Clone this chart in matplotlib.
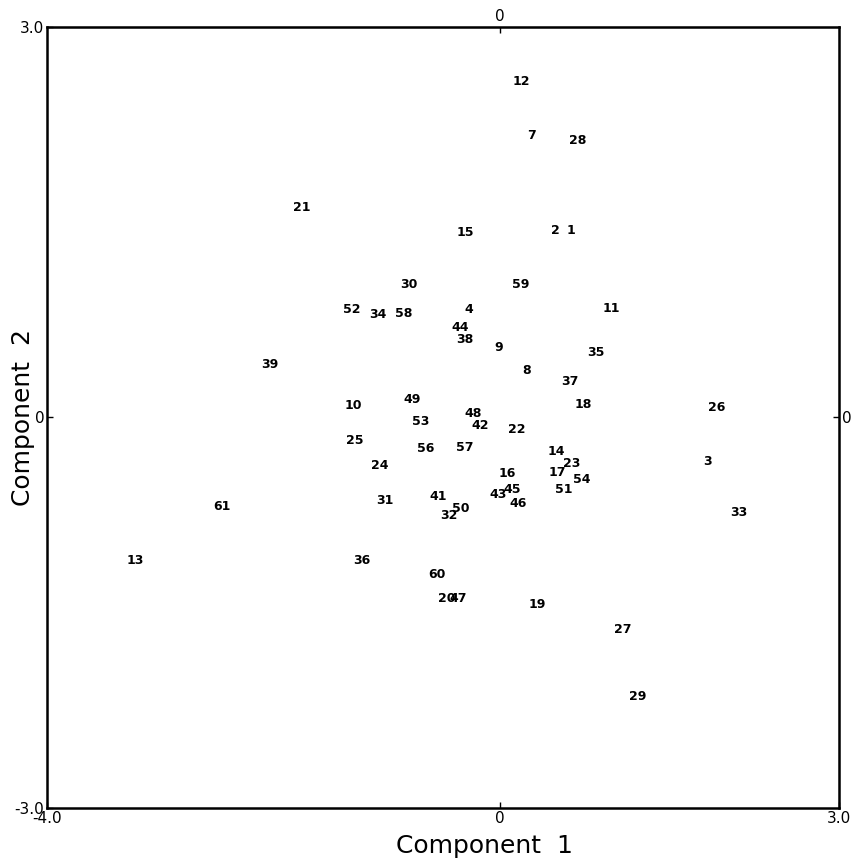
import matplotlib
matplotlib.use("Agg")
import matplotlib.pyplot as plt

# point labels and their scores on the first two components
labels = ["12", "7", "28", "21", "15", "2", "1", "30", "59", "52", "34", "58",
          "4", "11", "44", "38", "9", "35", "39", "8", "37", "18", "26", "10",
          "49", "48", "53", "42", "22", "25", "56", "57", "14", "23", "3", "24",
          "17", "54", "16", "51", "45", "43", "46", "41", "31", "61", "50", "32",
          "33", "13", "36", "60", "20", "47", "19", "27", "29"]
comp1 = [0.19, 0.28, 0.69, -1.75, -0.30, 0.49, 0.63, -0.80, 0.19, -1.31, -1.08, -0.85,
         -0.27, 0.99, -0.35, -0.31, -0.01, 0.85, -2.03, 0.24, 0.62, 0.74, 1.92, -1.29,
         -0.77, -0.23, -0.70, -0.17, 0.15, -1.28, -0.65, -0.31, 0.50, 0.64, 1.84, -1.06,
         0.51, 0.73, 0.07, 0.57, 0.11, -0.01, 0.16, -0.54, -1.01, -2.45, -0.34, -0.45,
         2.11, -3.22, -1.22, -0.55, -0.47, -0.37, 0.33, 1.09, 1.22]
comp2 = [2.58, 2.17, 2.13, 1.61, 1.42, 1.44, 1.44, 1.02, 1.02, 0.83, 0.79, 0.80,
         0.83, 0.84, 0.69, 0.60, 0.54, 0.50, 0.41, 0.36, 0.28, 0.10, 0.08, 0.09,
         0.14, 0.03, -0.03, -0.06, -0.09, -0.18, -0.24, -0.23, -0.26, -0.35, -0.34, -0.37,
         -0.42, -0.48, -0.43, -0.55, -0.55, -0.59, -0.66, -0.61, -0.64, -0.68, -0.70, -0.75,
         -0.73, -1.10, -1.10, -1.21, -1.39, -1.39, -1.44, -1.63, -2.14]

fig = plt.figure(figsize=(8.58, 8.65), dpi=100)
ax = fig.add_axes([0.0548, 0.0659, 0.9231, 0.9029])

for lab, x, y in zip(labels, comp1, comp2):
    ax.text(x, y, lab, fontsize=9, fontweight="bold", ha="center", va="center",
            color="black")

ax.set_xlim(-4.0, 3.0)
ax.set_ylim(-3.0, 3.0)
for s in ax.spines.values():
    s.set_linewidth(1.8)

ax.set_xticks([-4.0, 0, 3.0])
ax.set_xticklabels(["-4.0", "0", "3.0"])
ax.set_yticks([-3.0, 0, 3.0])
ax.set_yticklabels(["-3.0", "0", "3.0"])
ax.tick_params(direction="in", length=4, width=1, labelsize=11, pad=2)

top = ax.secondary_xaxis("top")
top.set_xticks([0])
top.set_xticklabels(["0"])
top.tick_params(direction="in", length=4, width=1, labelsize=11, pad=2)

right = ax.secondary_yaxis("right")
right.set_yticks([0])
right.set_yticklabels(["0"])
right.tick_params(direction="in", length=4, width=1, labelsize=11, pad=2)

ax.set_xlabel("Component  1", fontsize=18)
ax.xaxis.set_label_coords(0.552, -0.033)
ax.set_ylabel("Component  2", fontsize=18)
ax.yaxis.set_label_coords(-0.015, 0.5)

fig.savefig("out.png", dpi=100)
